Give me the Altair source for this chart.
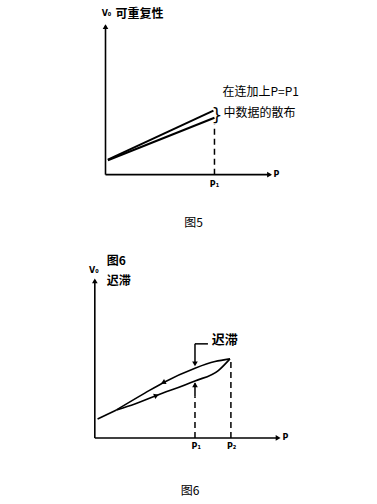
import altair as alt
import pandas as pd

# ---------------- Figure 5 (repeatability) ----------------
f5_upper_P = [0.014, 0.635]
f5_upper_V = [0.099, 0.421]
f5_lower_P = [0.014, 0.641]
f5_lower_V = [0.095, 0.375]
f5_P1 = 0.641
f5_P1_top = 0.33

# ---------------- Figure 6 (hysteresis) ----------------
f6_base_P = [0.015, 0.117]
f6_base_V = [0.117, 0.174]
f6_upper_P = [0.117, 0.270, 0.369, 0.541, 0.649, 0.730]
f6_upper_V = [0.174, 0.278, 0.343, 0.433, 0.474, 0.491]
f6_lower_P = [0.117, 0.216, 0.333, 0.541, 0.667, 0.730]
f6_lower_V = [0.174, 0.211, 0.263, 0.354, 0.418, 0.491]
f6_P1 = 0.541
f6_P2 = 0.735
f6_P2_top = 0.491

FONT_CJK = "Noto Sans CJK SC"
FONT_LAT = "DejaVu Sans"


def lines_df(series):
    rows = []
    for name, ps, vs in series:
        for i, (p, v) in enumerate(zip(ps, vs)):
            rows.append({"P": p, "Vo": v, "s": name, "o": i})
    return pd.DataFrame(rows)


def panel(xdom, ydom, w, h, axes, dashed, callouts, line_sets, interp, arrows, texts, lw):
    xs = alt.Scale(domain=xdom, nice=False, zero=False)
    ys = alt.Scale(domain=ydom, nice=False, zero=False)
    X = alt.X("P:Q", scale=xs, axis=None)
    Y = alt.Y("Vo:Q", scale=ys, axis=None)
    layers = []
    layers.append(alt.Chart(pd.DataFrame(axes, columns=["P", "Vo", "P2", "Vo2"]))
                  .mark_rule(color="black", strokeWidth=1.6)
                  .encode(x=X, y=Y, x2="P2:Q", y2="Vo2:Q"))
    layers.append(alt.Chart(pd.DataFrame(dashed, columns=["P", "Vo", "P2", "Vo2"]))
                  .mark_rule(color="black", strokeWidth=1.5, strokeDash=[6, 4])
                  .encode(x=X, y=Y, x2="P2:Q", y2="Vo2:Q"))
    if callouts:
        layers.append(alt.Chart(pd.DataFrame(callouts, columns=["P", "Vo", "P2", "Vo2"]))
                      .mark_rule(color="black", strokeWidth=1.5)
                      .encode(x=X, y=Y, x2="P2:Q", y2="Vo2:Q"))
    layers.append(alt.Chart(lines_df(line_sets))
                  .mark_line(color="black", strokeWidth=lw, interpolate=interp)
                  .encode(x=X, y=Y, detail="s:N", order="o:Q"))
    layers.append(alt.Chart(pd.DataFrame(arrows, columns=["P", "Vo", "shape", "ang"]))
                  .mark_point(filled=True, color="black", opacity=1, size=32)
                  .encode(x=X, y=Y,
                          shape=alt.Shape("shape:N", scale=None),
                          angle=alt.Angle("ang:Q", scale=None)))
    for (rows, size, font, weight, align) in texts:
        layers.append(alt.Chart(pd.DataFrame(rows, columns=["P", "Vo", "t"]))
                      .mark_text(color="black", fontSize=size, font=font,
                                 fontWeight=weight, align=align, baseline="middle")
                      .encode(x=X, y=Y, text="t:N"))
    return alt.layer(*layers).properties(width=w, height=h)


p5 = panel(
    xdom=[-0.15, 1.25], ydom=[-0.45, 1.15], w=238, h=243,
    axes=[[0, 0, 0, 0.98], [0, 0, 0.97, 0]],
    dashed=[[f5_P1, 0, f5_P1, f5_P1_top]],
    callouts=[],
    line_sets=[("upper", f5_upper_P, f5_upper_V), ("lower", f5_lower_P, f5_lower_V)],
    interp="linear",
    arrows=[[0, 0.975, "triangle-up", 0], [0.965, 0, "triangle-right", 0]],
    texts=[
        ([[0.688, 0.546, "在连加上P=P1"], [0.694, 0.408, "中数据的散布"]], 12, FONT_CJK, "normal", "left"),
        ([[0.059, 1.059, "可重复性"]], 12, FONT_CJK, "bold", "left"),
        ([[0.656, 0.388, "}"]], 17, FONT_LAT, "normal", "center"),
        ([[0.006, 1.059, "V₀"], [1.006, 0, "P"], [f5_P1, -0.066, "P₁"]], 8, FONT_LAT, "bold", "center"),
        ([[0.518, -0.316, "图5"]], 12, FONT_CJK, "normal", "center"),
    ],
    lw=2.0,
)

p6 = panel(
    xdom=[-0.08, 1.2], ydom=[-0.41, 1.21], w=237, h=261,
    axes=[[0, 0, 0, 0.98], [0, 0, 0.99, 0]],
    dashed=[[f6_P1, 0, f6_P1, 0.255], [f6_P2, 0, f6_P2, f6_P2_top]],
    callouts=[[f6_P1, 0.584, 0.611, 0.584], [f6_P1, 0.584, f6_P1, 0.47], [f6_P1, 0.255, f6_P1, 0.34]],
    line_sets=[("base", f6_base_P, f6_base_V), ("upper", f6_upper_P, f6_upper_V),
               ("lower", f6_lower_P, f6_lower_V)],
    interp="monotone",
    arrows=[[0, 0.975, "triangle-up", 0], [0.99, 0, "triangle-right", 0],
            [f6_P1, 0.46, "triangle-down", 0], [f6_P1, 0.33, "triangle-up", 0],
            [0.369, 0.343, "triangle-left", 333], [0.333, 0.263, "triangle-right", 338]],
    texts=[
        ([[0.632, 0.609, "迟滞"]], 13, FONT_CJK, "bold", "left"),
        ([[0.065, 1.099, "图6"], [0.065, 0.975, "迟滞"]], 12, FONT_CJK, "bold", "left"),
        ([[-0.005, 1.037, "V₀"], [1.03, 0, "P"], [0.548, -0.056, "P₁"], [0.739, -0.056, "P₂"]],
         8, FONT_LAT, "bold", "center"),
        ([[0.514, -0.329, "图6"]], 12, FONT_CJK, "normal", "center"),
    ],
    lw=1.6,
)

chart = alt.vconcat(p5, p6, spacing=0).properties(
    padding={"left": 80, "top": 0, "right": 0, "bottom": 0}
).configure_view(stroke=None)

chart.save("out.html", embed_options={"renderer": "svg", "actions": False})
